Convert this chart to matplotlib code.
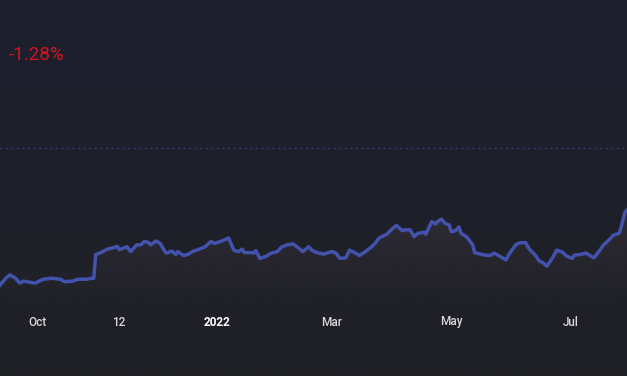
import numpy as np
import matplotlib
matplotlib.use("Agg")
import matplotlib.pyplot as plt
import matplotlib.dates as mdates
from matplotlib.colors import to_rgb

# ---------------- data ----------------
dates = [
    "2021-09-12", "2021-09-15", "2021-09-17", "2021-09-20", "2021-09-22", "2021-09-24",
    "2021-09-27", "2021-09-30", "2021-10-04", "2021-10-08", "2021-10-13", "2021-10-15",
    "2021-10-19", "2021-10-22", "2021-10-26", "2021-10-29", "2021-10-30", "2021-10-31",
    "2021-11-02", "2021-11-06", "2021-11-08", "2021-11-11", "2021-11-12", "2021-11-14",
    "2021-11-16", "2021-11-18", "2021-11-19", "2021-11-21", "2021-11-23", "2021-11-25",
    "2021-11-27", "2021-11-28", "2021-12-01", "2021-12-03", "2021-12-05", "2021-12-06",
    "2021-12-09", "2021-12-11", "2021-12-12", "2021-12-15", "2021-12-17", "2021-12-20",
    "2021-12-23", "2021-12-26", "2021-12-29", "2021-12-31", "2022-01-03", "2022-01-07",
    "2022-01-09", "2022-01-10", "2022-01-12", "2022-01-14", "2022-01-15", "2022-01-19",
    "2022-01-20", "2022-01-21", "2022-01-23", "2022-01-26", "2022-01-29", "2022-02-01",
    "2022-02-03", "2022-02-06", "2022-02-09", "2022-02-12", "2022-02-14", "2022-02-17",
    "2022-02-19", "2022-02-22", "2022-02-25", "2022-02-27", "2022-03-01", "2022-03-03",
    "2022-03-05", "2022-03-08", "2022-03-10", "2022-03-13", "2022-03-15", "2022-03-18",
    "2022-03-21", "2022-03-23", "2022-03-25", "2022-03-26", "2022-03-29", "2022-04-01",
    "2022-04-03", "2022-04-06", "2022-04-07", "2022-04-10", "2022-04-12", "2022-04-14",
    "2022-04-17", "2022-04-18", "2022-04-21", "2022-04-23", "2022-04-24", "2022-04-26",
    "2022-04-28", "2022-04-30", "2022-05-01", "2022-05-03", "2022-05-05", "2022-05-06",
    "2022-05-09", "2022-05-12", "2022-05-13", "2022-05-16", "2022-05-18", "2022-05-21",
    "2022-05-23", "2022-05-26", "2022-05-29", "2022-05-31", "2022-06-03", "2022-06-05",
    "2022-06-08", "2022-06-10", "2022-06-13", "2022-06-15", "2022-06-17", "2022-06-19",
    "2022-06-22", "2022-06-24", "2022-06-27", "2022-06-29", "2022-07-02", "2022-07-03",
    "2022-07-06", "2022-07-09", "2022-07-13", "2022-07-15", "2022-07-18", "2022-07-21",
    "2022-07-23", "2022-07-26", "2022-07-27", "2022-07-29", "2022-07-30",
]
prices = [
    97.17, 97.31, 97.38, 97.31, 97.21, 97.25,
    97.23, 97.21, 97.29, 97.31, 97.29, 97.24,
    97.25, 97.29, 97.29, 97.31, 97.31, 97.80,
    97.83, 97.91, 97.93, 97.97, 97.90, 97.93,
    97.96, 97.86, 97.91, 98.00, 98.00, 98.07,
    98.05, 98.00, 98.08, 98.03, 97.89, 97.83,
    97.87, 97.80, 97.86, 97.78, 97.80, 97.87,
    97.91, 97.96, 98.07, 98.03, 98.07, 98.14,
    97.96, 97.88, 97.86, 97.91, 97.84, 97.84,
    97.83, 97.88, 97.72, 97.76, 97.83, 97.86,
    97.95, 98.00, 98.02, 97.93, 97.86, 97.96,
    97.88, 97.83, 97.81, 97.84, 97.86, 97.83,
    97.72, 97.73, 97.89, 97.83, 97.78, 97.86,
    97.95, 98.03, 98.14, 98.16, 98.22, 98.34,
    98.40, 98.29, 98.31, 98.31, 98.17, 98.24,
    98.26, 98.22, 98.48, 98.43, 98.48, 98.53,
    98.44, 98.41, 98.27, 98.29, 98.37, 98.24,
    98.16, 98.00, 97.84, 97.81, 97.79, 97.78,
    97.83, 97.76, 97.69, 97.83, 98.00, 98.04,
    98.05, 97.91, 97.79, 97.67, 97.63, 97.56,
    97.74, 97.89, 97.85, 97.77, 97.72, 97.79,
    97.80, 97.83, 97.73, 97.83, 98.00, 98.11,
    98.20, 98.24, 98.37, 98.68, 98.72,
]
reference_price = 100.0
change_label = "-1.28%"
tick_dates = ["2021-10-01", "2021-11-12", "2022-01-01", "2022-03-01", "2022-05-01", "2022-07-01"]
tick_labels = ["Oct", "12", "2022", "Mar", "May", "Jul"]
tick_bold = [False, False, True, False, False, False]

# ---------------- figure ----------------
W, H = 627, 376
fig = plt.figure(figsize=(W / 100, H / 100), dpi=100)
ax = fig.add_axes([0, 0, 1, 1])

x = np.array(dates, dtype="datetime64[D]")
y = np.array(prices)
xn = mdates.date2num(x)

k = 0.02065  # price per pixel
ymax = reference_price + 148 * k
ymin = reference_price - (H - 148) * k
ax.set_xlim(xn[0], xn[-1])
ax.set_ylim(ymin, ymax)
ax.axis("off")

# background gradient
top = np.array(to_rgb("#1d1f2e"))
bot = np.array(to_rgb("#202126"))
t = np.linspace(0, 1, 256)[:, None]
bg = (top * (1 - t) + bot * t)[:, None, :]
ax.imshow(bg, extent=[xn[0], xn[-1], ymin, ymax], aspect="auto", zorder=0,
          origin="upper", interpolation="bilinear")

# gradient fill under the line
fill_rgb = np.array(to_rgb("#2f2c34"))
fade_bottom = reference_price - (318 - 148) * k
ytop_fill = y.max()
n = 256
grad = np.zeros((n, 1, 4))
grad[:, 0, :3] = fill_rgb
grad[:, 0, 3] = np.linspace(1.0, 0.0, n) ** 1.2
poly = ax.fill_between(xn, y, fade_bottom, color="none", lw=0)
im = ax.imshow(grad, extent=[xn[0], xn[-1], fade_bottom, ytop_fill], aspect="auto",
               zorder=1, origin="upper", interpolation="bilinear")
im.set_clip_path(poly.get_paths()[0], transform=ax.transData)

# reference dotted line
ax.axhline(reference_price, color="#36457e", lw=1.0, ls=(0, (1.2, 2.8)), zorder=2)

# price line
ax.plot(xn, y, color="#4353ad", lw=2.5, solid_joinstyle="round", zorder=3)

# tick labels
label_y = 1 - 322 / H
for d, lab, b in zip(tick_dates, tick_labels, tick_bold):
    ax.text(mdates.date2num(np.datetime64(d)), label_y, lab,
            transform=ax.get_xaxis_transform(), ha="center", va="center",
            fontsize=8.5, family="Roboto", color="#ffffff" if b else "#d8d8d8",
            fontweight="bold" if b else "medium", zorder=4)

# change text
fig.text(9 / W, 1 - 55 / H, change_label, color="#d5131b", fontsize=13.5,
         family="Roboto", ha="left", va="center")

fig.savefig("out.png", dpi=100, facecolor="#1e2029")
